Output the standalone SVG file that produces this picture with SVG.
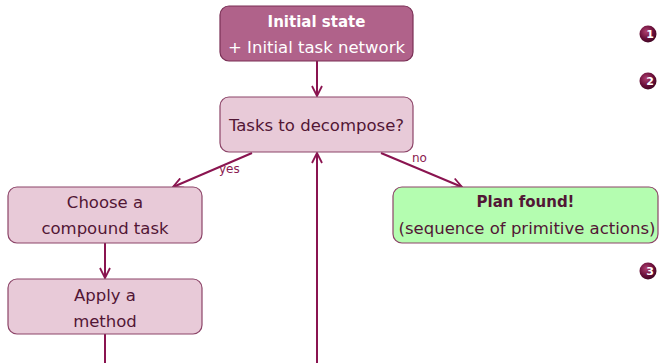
<svg xmlns="http://www.w3.org/2000/svg" width="659" height="363" viewBox="0 0 659 363">
<defs>
<style>
.box{fill:#e8cad8;stroke:#8c4468;stroke-width:1.2}
.top{fill:#b0628a;stroke:#7a2f55;stroke-width:1.2}
.plan{fill:#b4fdb0;stroke:#8c4468;stroke-width:1.2}
.t{font-family:"DejaVu Sans",sans-serif;font-size:16.5px;fill:#521635;text-anchor:middle}
.w{fill:#ffffff}
.b{font-weight:bold;font-size:15px}
.lbl{font-family:"DejaVu Sans",sans-serif;font-size:12px;fill:#8a1a50}
.c{stroke:#8a1450;stroke-width:2;fill:none}
.num{font-family:"DejaVu Sans",sans-serif;font-size:11px;fill:#ffffff;font-weight:bold;text-anchor:middle}
</style>
<marker id="ah" viewBox="0 0 12 12" refX="11" refY="6" markerWidth="12" markerHeight="12" markerUnits="userSpaceOnUse" orient="auto">
<path d="M1,1 L11,6 L1,11" fill="none" stroke="#8a1450" stroke-width="1.8"/>
</marker>
<radialGradient id="ball" cx="0.4" cy="0.35" r="0.7">
<stop offset="0" stop-color="#b04070"/>
<stop offset="0.6" stop-color="#6a0f3a"/>
<stop offset="1" stop-color="#3a0520"/>
</radialGradient>
</defs>
<g id="connectors">
<line class="c" x1="317" y1="61" x2="317" y2="96" marker-end="url(#ah)"/>
<line class="c" x1="252" y1="153" x2="173" y2="187" marker-end="url(#ah)"/>
<line class="c" x1="381" y1="153" x2="462" y2="187" marker-end="url(#ah)"/>
<line class="c" x1="105" y1="243" x2="105" y2="278" marker-end="url(#ah)"/>
<line class="c" x1="105" y1="334" x2="105" y2="363"/>
<line class="c" x1="317" y1="363" x2="317" y2="153" marker-end="url(#ah)"/>
<text class="lbl" x="219" y="173">yes</text>
<text class="lbl" x="412" y="162">no</text>
</g>
<g id="initial">
<rect class="top" x="220" y="6" width="193" height="55" rx="9"/>
<text class="t w b" x="316.5" y="27">Initial state</text>
<text class="t w" x="316.5" y="53">+ Initial task network</text>
</g>
<g id="tasks">
<rect class="box" x="220" y="97" width="193" height="55" rx="9"/>
<text class="t" x="316.5" y="131">Tasks to decompose?</text>
</g>
<g id="choose">
<rect class="box" x="8" y="187" width="194" height="56" rx="9"/>
<text class="t" x="105" y="208">Choose a</text>
<text class="t" x="105" y="234">compound task</text>
</g>
<g id="apply">
<rect class="box" x="8" y="279" width="194" height="55" rx="9"/>
<text class="t" x="105" y="301">Apply a</text>
<text class="t" x="105" y="327">method</text>
</g>
<g id="plan">
<rect class="plan" x="393" y="187" width="265" height="56" rx="9"/>
<text class="t b" x="525.5" y="207">Plan found!</text>
<text class="t" x="527" y="234">(sequence of primitive actions)</text>
</g>
<g id="bullets">
<circle cx="648" cy="34" r="8.5" fill="url(#ball)"/>
<text class="num" x="650" y="38">1</text>
<circle cx="648" cy="81" r="8.5" fill="url(#ball)"/>
<text class="num" x="650" y="85">2</text>
<circle cx="648" cy="271" r="8.5" fill="url(#ball)"/>
<text class="num" x="650" y="275">3</text>
</g>
</svg>
